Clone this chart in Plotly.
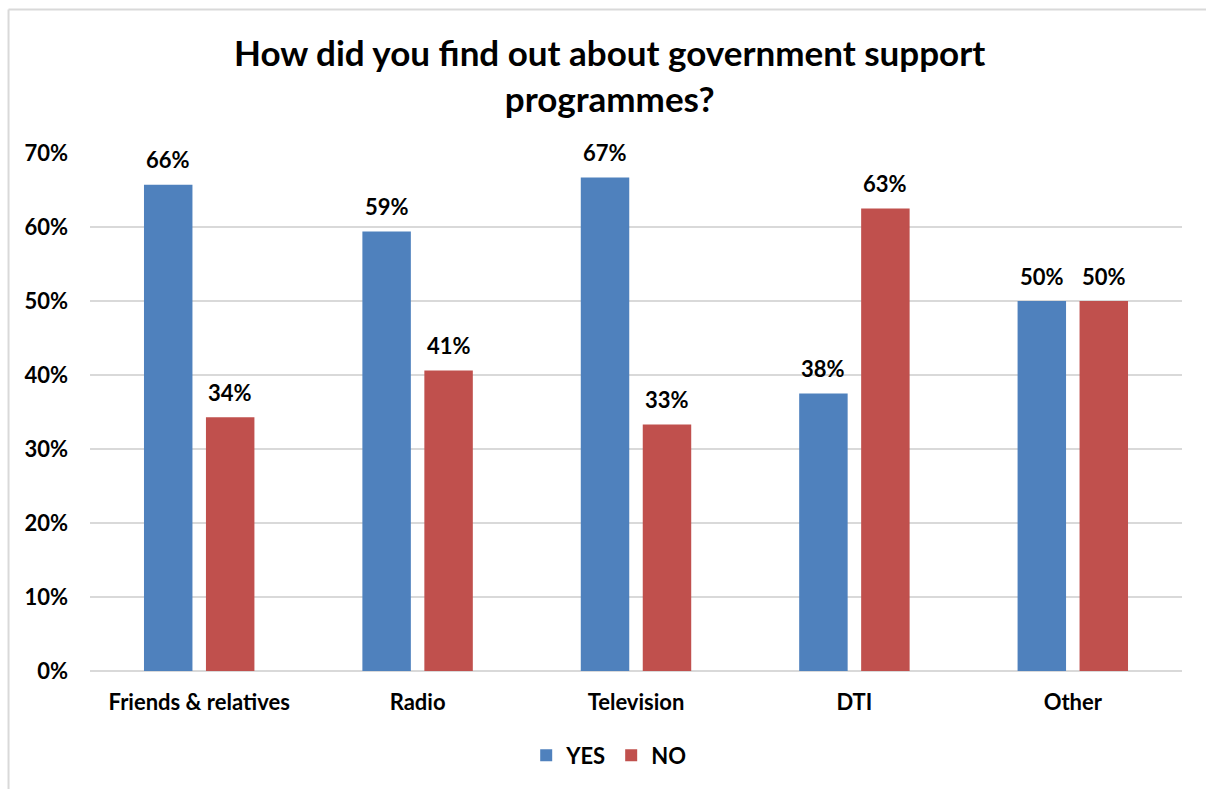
import plotly.graph_objects as go

# Survey answers: how respondents learned about government support programmes
categories = ["Friends & relatives", "Radio", "Television", "DTI", "Other"]
yes_pct = [65.7, 59.4, 66.7, 37.5, 50.0]
no_pct = [34.3, 40.6, 33.3, 62.5, 50.0]
series_names = ["YES", "NO"]
y_ticks = [0, 10, 20, 30, 40, 50, 60, 70]

BLUE = "#4F81BD"
RED = "#C0504D"
GRID = "#D9D9D9"
FONT = "Lato"
TEXT_SIZE = 22

BARGAP = 0.4325
BARGROUPGAP = 0.218


def pct_label(v):
    # half-up rounding so 62.5 reads as 63%
    return f"{int(v + 0.5)}%"


fig = go.Figure()
for name, vals, color in [(series_names[0], yes_pct, BLUE), (series_names[1], no_pct, RED)]:
    fig.add_trace(go.Bar(
        name=name,
        x=list(range(len(categories))),
        y=vals,
        marker=dict(color=color, line=dict(width=0)),
        hoverinfo="x+y",
    ))

# value labels above each bar
offset = (1 - BARGAP) / 4
for vals, sign in [(yes_pct, -1), (no_pct, 1)]:
    for i, v in enumerate(vals):
        fig.add_annotation(
            x=i + sign * offset, y=v, xref="x", yref="y",
            text=pct_label(v), showarrow=False,
            yanchor="middle", yshift=25,
            font=dict(family=FONT, size=TEXT_SIZE, color="#000000", weight="bold"),
        )

fig.add_annotation(
    x=0.4755, y=1.150, xref="paper", yref="paper",
    text="How did you find out about government support<br>programmes?",
    showarrow=False, xanchor="center", yanchor="middle",
    font=dict(family=FONT, size=35, color="#000000", weight="bold"),
)

# outer chart frame (top and left edges)
fig.add_shape(type="line", xref="paper", yref="paper",
              x0=-0.0746, x1=1.05, y0=1.277, y1=1.277,
              line=dict(color=GRID, width=2))
fig.add_shape(type="line", xref="paper", yref="paper",
              x0=-0.0746, x1=-0.0746, y0=-0.3, y1=1.277,
              line=dict(color=GRID, width=2))

fig.update_layout(
    width=1206, height=789,
    margin=dict(l=89.5, r=24, t=152.7, b=117.5, autoexpand=False),
    paper_bgcolor="white", plot_bgcolor="white",
    barmode="group", bargap=BARGAP, bargroupgap=BARGROUPGAP,
    showlegend=True,
    legend=dict(
        orientation="h", x=0.475, xanchor="center", y=-0.163, yanchor="middle",
        font=dict(family=FONT, size=TEXT_SIZE, color="#000000", weight="bold"),
        itemwidth=30, traceorder="normal",
    ),
    font=dict(family=FONT, color="#000000"),
)

fig.update_xaxes(
    tickmode="array", tickvals=list(range(len(categories))), ticktext=categories,
    range=[-0.5, len(categories) - 0.5],
    showgrid=False, showline=False, zeroline=False, ticks="",
    ticklabelstandoff=16,
    tickfont=dict(family=FONT, size=TEXT_SIZE, color="#000000", weight="bold"),
)
fig.update_yaxes(
    range=[0, 70], tickmode="array", tickvals=y_ticks,
    ticktext=[f"{t}%" for t in y_ticks],
    showgrid=True, gridcolor=GRID, gridwidth=2,
    zeroline=True, zerolinecolor=GRID, zerolinewidth=2,
    showline=False, ticks="", ticklabelstandoff=21,
    tickfont=dict(family=FONT, size=TEXT_SIZE, color="#000000", weight="bold"),
)

fig.write_html("out.html")
